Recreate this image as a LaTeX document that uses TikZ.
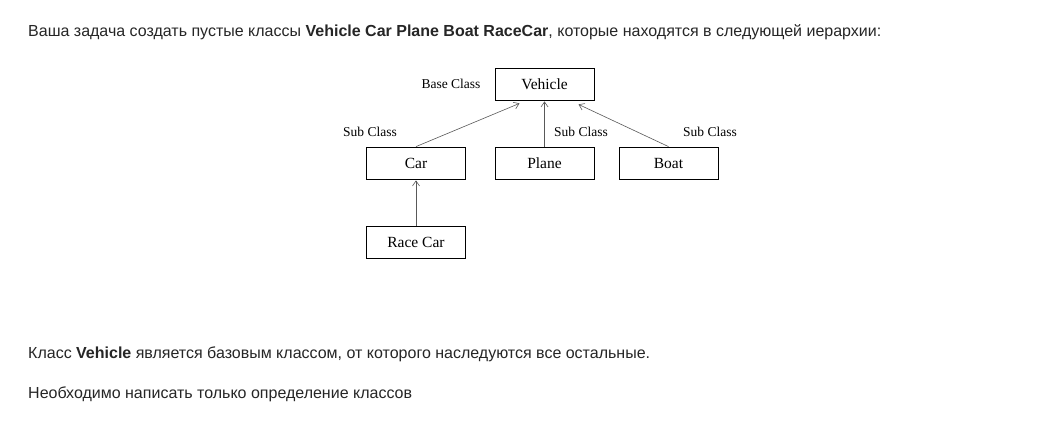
\documentclass[tikz,border=0pt]{standalone}
\usepackage{fontspec}
\setmainfont{Liberation Serif}
\newfontfamily\pagefont{Liberation Sans}
\usetikzlibrary{positioning, arrows.meta}

\begin{document}
\begin{tikzpicture}[x=1pt, y=-1pt, node distance=79pt,
    classbox/.style={rectangle, draw, line width=0.8pt, minimum width=99pt, minimum height=32pt, inner sep=0pt, font=\fontsize{15.5}{18}\selectfont},
    classlabel/.style={inner sep=0pt, font=\fontsize{13.5}{16}\selectfont},
    pagetext/.style={anchor=base west, inner sep=0pt, text=black!85, font=\pagefont\fontsize{16}{19}\selectfont},
    inherit/.style={-{Straight Barb[length=5pt, width=7pt]}, draw=black!65, line width=0.6pt}]
    \useasboundingbox [fill=white] (0,0) rectangle (1046,447);

    % Task text
    \node [pagetext] (task) at (28,36) {Ваша задача создать пустые классы \textbf{Vehicle Car Plane Boat RaceCar}, которые находятся в следующей иерархии:};
    \node [pagetext] (base) at (28,358) {Класс \textbf{Vehicle} является базовым классом, от которого наследуются все остальные.};
    \node [pagetext] (only) at (28,398) {Необходимо написать только определение классов};

    % Class hierarchy
    \node [classbox] (vehicle) at (544.5,84) {Vehicle};
    \node [classbox, below of=vehicle] (plane) {Plane};
    \node [classbox, left of=plane, xshift=-49.5pt] (car) {Car};
    \node [classbox, right of=plane, xshift=45pt] (boat) {Boat};
    \node [classbox, below of=car] (racecar) {Race Car};

    % Labels
    \node [classlabel, anchor=base east] (baselabel) at ([xshift=-14pt, yshift=-4pt]vehicle.west) {Base Class};
    \node [classlabel, anchor=base east] (carlabel) at ([xshift=-19pt, yshift=10pt]car.north) {Sub Class};
    \node [classlabel, anchor=base west] (planelabel) at ([xshift=9.5pt, yshift=10pt]plane.north) {Sub Class};
    \node [classlabel, anchor=base west] (boatlabel) at ([xshift=14.5pt, yshift=10pt]boat.north) {Sub Class};

    % Arrows
    \draw [inherit] (car.north) -- ([xshift=-25pt, yshift=-3pt]vehicle.south);
    \draw [inherit] (plane.north) -- ([yshift=-1pt]vehicle.south);
    \draw [inherit] (boat.north) -- ([xshift=34pt, yshift=-4pt]vehicle.south);
    \draw [inherit] (racecar.north) -- ([yshift=-1pt]car.south);
\end{tikzpicture}
\end{document}
